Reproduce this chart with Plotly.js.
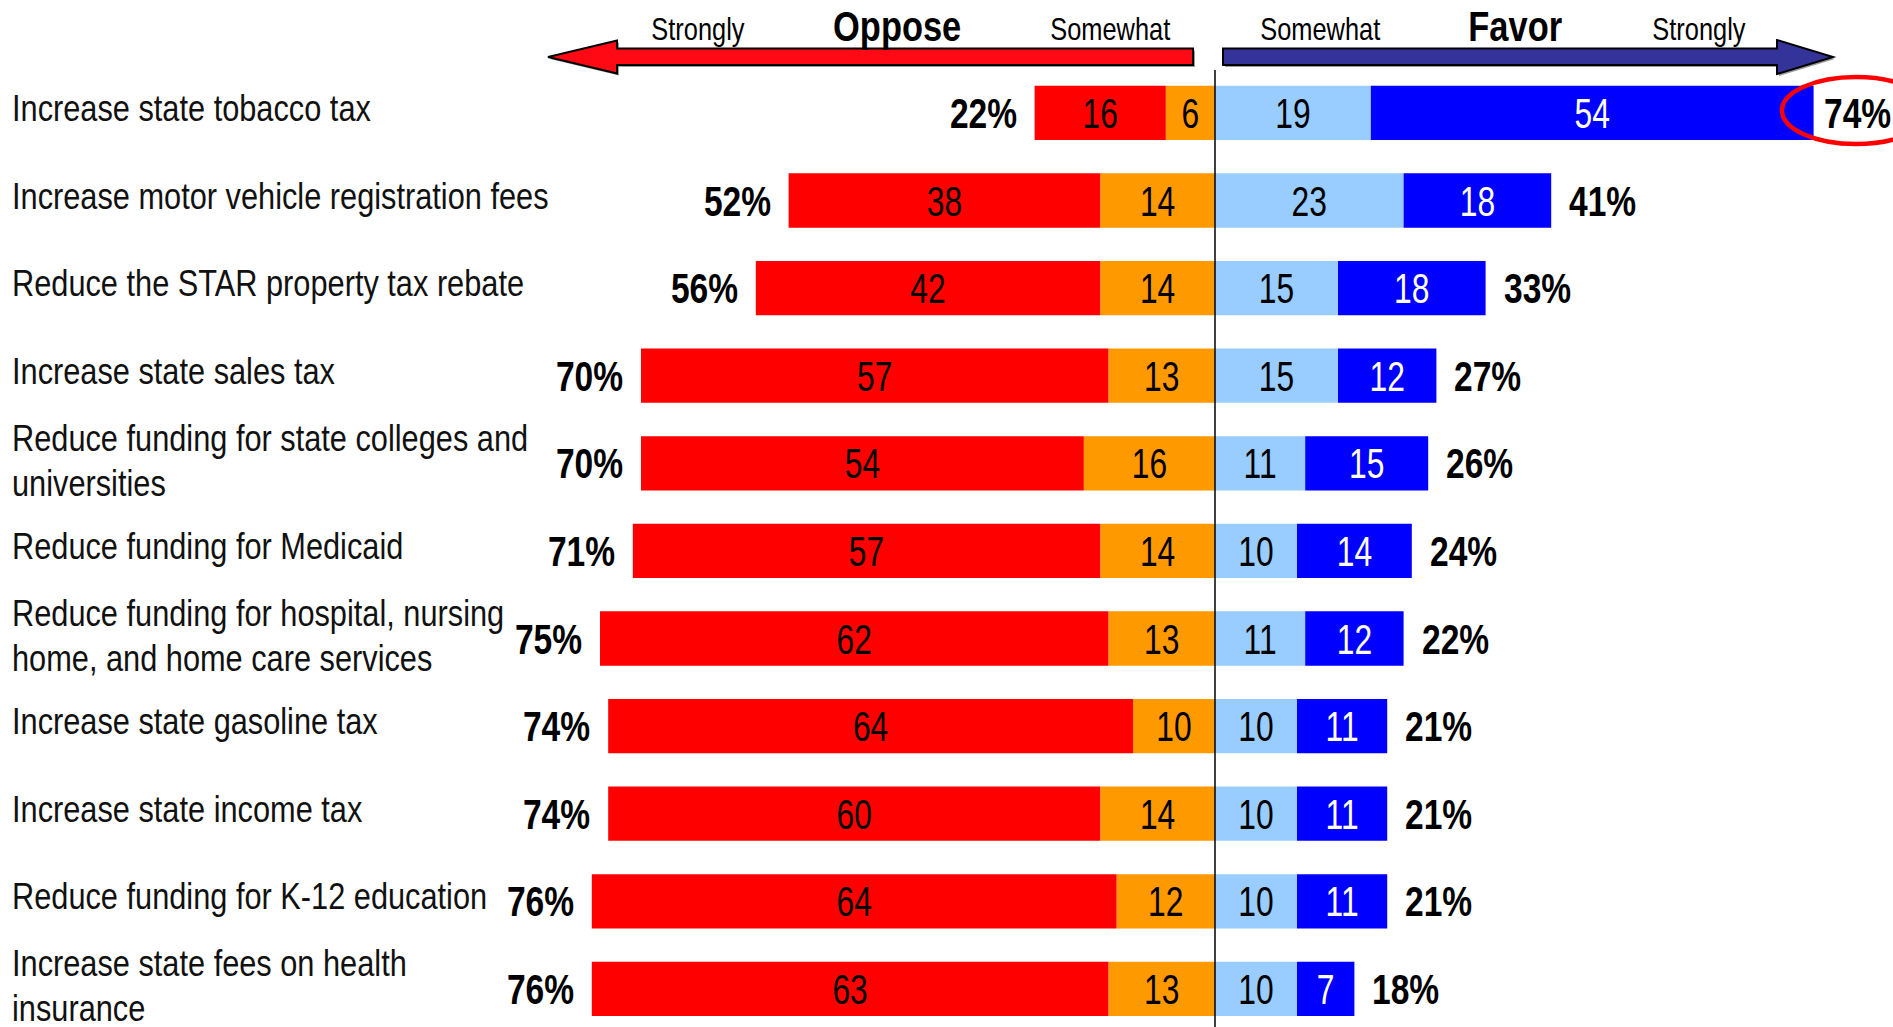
<!DOCTYPE html>
<html>
<head>
<meta charset="utf-8">
<script src="https://cdn.plot.ly/plotly-3.0.1.min.js"></script>
<style>
  html, body { margin: 0; padding: 0; background: #ffffff; }
  #chart { width: 1893px; height: 1027px; }
</style>
</head>
<body>
<div id="chart"></div>
<script>
// ---------- DATA ----------
const categories = [
  "Increase state tobacco tax",
  "Increase motor vehicle registration fees",
  "Reduce the STAR property tax rebate",
  "Increase state sales tax",
  "Reduce funding for state colleges and<br>universities",
  "Reduce funding for Medicaid",
  "Reduce funding for hospital, nursing<br>home, and home care services",
  "Increase state gasoline tax",
  "Increase state income tax",
  "Reduce funding for K-12 education",
  "Increase state fees on health<br>insurance"
];
const stronglyOppose = [16, 38, 42, 57, 54, 57, 62, 64, 60, 64, 63];
const somewhatOppose = [6, 14, 14, 13, 16, 14, 13, 10, 14, 12, 13];
const somewhatFavor  = [19, 23, 15, 15, 11, 10, 11, 10, 10, 10, 10];
const stronglyFavor  = [54, 18, 18, 12, 15, 14, 12, 11, 11, 11, 7];
const totalOppose    = [22, 52, 56, 70, 70, 71, 75, 74, 74, 76, 76];
const totalFavor     = [74, 41, 33, 27, 26, 24, 22, 21, 21, 21, 18];
const headerLeft  = ["Strongly", "Oppose", "Somewhat"];
const headerRight = ["Somewhat", "Favor", "Strongly"];

// ---------- LAYOUT CONSTANTS ----------
const W = 1893, H = 1027;
const CENTER_PX = 1215, PX_PER_UNIT = 8.2;
const ROW0_PX = 112.9, ROW_STEP = 87.6;
const FONT = "'Liberation Sans', Arial, sans-serif";
const NARROW_X = 0.82;   // horizontal squeeze to emulate a narrow face
const PCT_X = 0.78;
const BAR_X = 0.74;

const xRange = [-CENTER_PX / PX_PER_UNIT, (W - CENTER_PX) / PX_PER_UNIT];
const yRange = [(H - ROW0_PX) / ROW_STEP, -ROW0_PX / ROW_STEP];

function barTrace(vals, sign, color, txtColor) {
  return {
    type: 'bar', orientation: 'h',
    y: categories,
    x: vals.map(v => sign * v),
    text: vals.map(String),
    texttemplate: '%{text}',
    textposition: 'inside',
    insidetextanchor: 'middle',
    textangle: 0,
    constraintext: 'none',
    cliponaxis: false,
    textfont: { family: FONT, size: 43, color: txtColor },
    marker: { color: color, line: { width: 0 } },
    hoverinfo: 'skip'
  };
}

const traces = [
  barTrace(somewhatOppose, -1, '#FF9900', '#000000'),
  barTrace(stronglyOppose, -1, '#FF0000', '#000000'),
  barTrace(somewhatFavor, 1, '#99CCFF', '#000000'),
  barTrace(stronglyFavor, 1, '#0000FF', '#FFFFFF')
];

const annotations = [];
const annSqueeze = [];   // [origin, factor] for horizontal squeeze of each annotation
categories.forEach((c, i) => {
  const multi = c.indexOf('<br>') >= 0;
  annotations.push({
    xref: 'paper', x: 10 / W, xanchor: 'left', align: 'left',
    yref: 'y', y: c, yanchor: 'middle', yshift: multi ? 3 : 5,
    text: c, showarrow: false,
    font: { family: FONT, size: 37.5, color: '#111111' }
  });
  annSqueeze.push(['left', NARROW_X]);

  annotations.push({
    xref: 'x', x: -(stronglyOppose[i] + somewhatOppose[i]), xanchor: 'right', xshift: -16,
    yref: 'y', y: c, yanchor: 'middle',
    text: totalOppose[i] + '%', showarrow: false,
    font: { family: FONT, size: 43, color: '#000000', weight: 'bold' }
  });
  annSqueeze.push(['right', PCT_X]);

  const favEnd = somewhatFavor[i] + stronglyFavor[i];
  const endPx = CENTER_PX + favEnd * PX_PER_UNIT;
  annotations.push({
    xref: 'x', x: favEnd, xanchor: 'left', xshift: (W - endPx < 120 ? 8 : 16),
    yref: 'y', y: c, yanchor: 'middle',
    text: totalFavor[i] + '%', showarrow: false,
    font: { family: FONT, size: 43, color: '#000000', weight: 'bold' }
  });
  annSqueeze.push(['left', PCT_X]);
});

// header labels above the arrows
const headerPos  = [{ px: 698, py: 29.5, big: false }, { px: 897, py: 26.5, big: true }, { px: 1110, py: 29.5, big: false }];
const headerPosR = [{ px: 1320, py: 29.5, big: false }, { px: 1515, py: 26.5, big: true }, { px: 1699, py: 29.5, big: false }];
function headerAnn(txt, p) {
  return {
    xref: 'paper', yref: 'paper', x: p.px / W, y: 1 - p.py / H,
    xanchor: 'center', yanchor: 'middle', showarrow: false, text: txt,
    font: p.big ? { family: FONT, size: 42, color: '#000', weight: 'bold' }
                : { family: FONT, size: 31, color: '#000' }
  };
}
headerLeft.forEach((t, i) => { annotations.push(headerAnn(t, headerPos[i])); annSqueeze.push(['center', NARROW_X]); });
headerRight.forEach((t, i) => { annotations.push(headerAnn(t, headerPosR[i])); annSqueeze.push(['center', NARROW_X]); });

// arrow shapes
function pth(points, dx, dy) {
  return 'M' + points.map(([px, py]) =>
    ((px + dx) / W).toFixed(5) + ',' + (1 - (py + dy) / H).toFixed(5)).join('L') + 'Z';
}
const redArrow = [[548, 57], [617, 40.5], [617, 48.5], [1193, 48.5], [1193, 65], [617, 65], [617, 73.5]];
const blueArrow = [[1223, 48.5], [1777, 48.5], [1777, 40], [1833, 57], [1777, 74], [1777, 65], [1223, 65]];

const shapes = [
  { type: 'path', xref: 'paper', yref: 'paper', path: pth(redArrow, 2, 2), fillcolor: '#9a9a9a', line: { width: 0 }, layer: 'above' },
  { type: 'path', xref: 'paper', yref: 'paper', path: pth(redArrow, 0, 0), fillcolor: '#FF0A14', line: { color: '#000', width: 2 }, layer: 'above' },
  { type: 'path', xref: 'paper', yref: 'paper', path: pth(blueArrow, 2, 2), fillcolor: '#9a9a9a', line: { width: 0 }, layer: 'above' },
  { type: 'path', xref: 'paper', yref: 'paper', path: pth(blueArrow, 0, 0), fillcolor: '#333399', line: { color: '#000', width: 2 }, layer: 'above' },
  { type: 'line', xref: 'x', x0: 0, x1: 0, yref: 'paper', y0: 1 - 70 / H, y1: 0, line: { color: '#000', width: 1.5 }, layer: 'above' },
  { type: 'circle', xref: 'paper', yref: 'paper', x0: 1782 / W, x1: 1930 / W, y0: 1 - 144 / H, y1: 1 - 77 / H,
    line: { color: '#FF0000', width: 4.5 }, fillcolor: 'rgba(0,0,0,0)', layer: 'above' }
];

const layout = {
  width: W, height: H,
  margin: { l: 0, r: 0, t: 0, b: 0, pad: 0 },
  paper_bgcolor: '#ffffff', plot_bgcolor: '#ffffff',
  barmode: 'relative', bargap: 0.38,
  showlegend: false,
  xaxis: { range: xRange, visible: false, showgrid: false, zeroline: false, fixedrange: true },
  yaxis: { type: 'category', range: yRange, autorange: false, visible: false, showgrid: false, zeroline: false, fixedrange: true },
  annotations: annotations,
  shapes: shapes,
  font: { family: FONT }
};

// squeeze a text element horizontally around its left / right / centre
function squeeze(el, sx, origin, dy) {
  const bb = el.getBBox();
  let ox = bb.x + bb.width / 2;
  if (origin === 'left') ox = bb.x;
  if (origin === 'right') ox = bb.x + bb.width;
  const prev = el.getAttribute('transform') || '';
  el.setAttribute('transform', prev + ' translate(' + ox + ',' + (dy || 0) + ') scale(' + sx + ',1) translate(' + (-ox) + ',0)');
}

Plotly.newPlot('chart', traces, layout, { displayModeBar: false, staticPlot: true }).then(gd => {
  gd.querySelectorAll('g.annotation').forEach(g => {
    const idx = +g.getAttribute('data-index');
    const t = g.querySelector('text.annotation-text');
    if (!t) return;
    // tighten line spacing of two-line labels
    let dy = 0;
    t.querySelectorAll('tspan.line').forEach((ts, k) => {
      if (k > 0) { ts.setAttribute('dy', '1.19em'); dy = 2; }
    });
    const sq = annSqueeze[idx] || ['center', NARROW_X];
    squeeze(t, sq[1], sq[0], dy);
  });
  gd.querySelectorAll('.barlayer text').forEach(t => squeeze(t, BAR_X, 'center', 0));
});
</script>
</body>
</html>
